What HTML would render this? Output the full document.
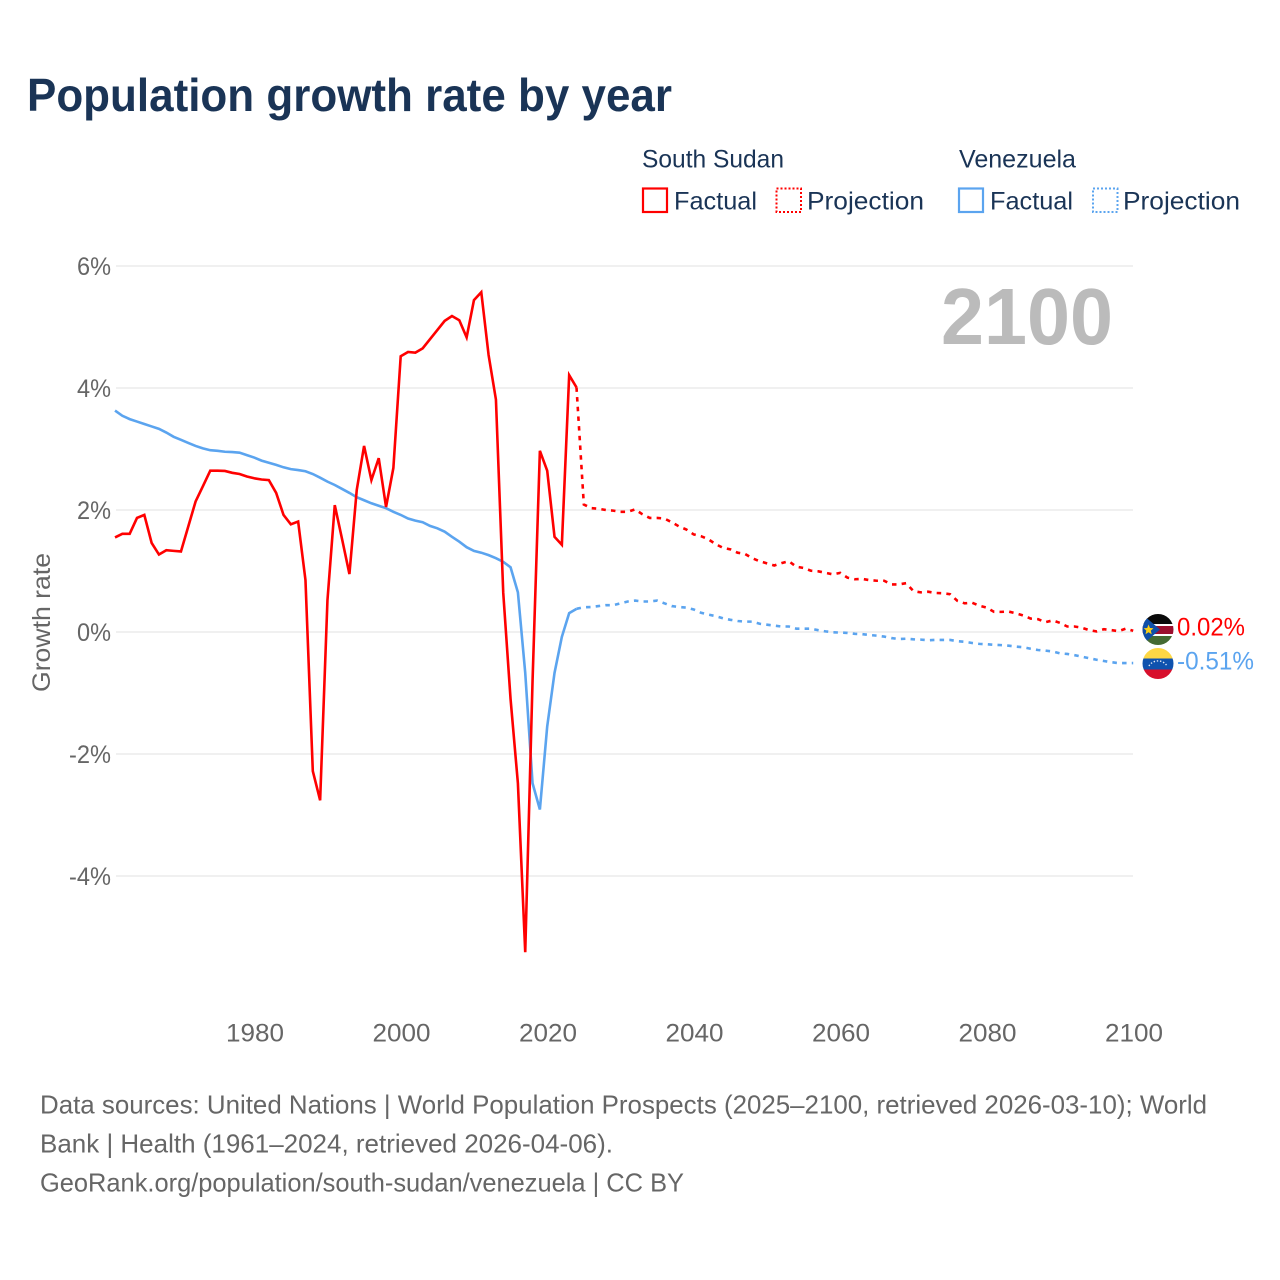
<!DOCTYPE html>
<html lang="en">
<head>
<meta charset="utf-8">
<title>Population growth rate by year</title>
<style>
html,body{margin:0;padding:0;background:#fff;width:1280px;height:1280px;overflow:hidden}
svg{display:block;font-family:"Liberation Sans",sans-serif}
</style>
</head>
<body>
<svg id="chart" width="1280" height="1280" viewBox="0 0 1280 1280" xmlns="http://www.w3.org/2000/svg">
  <text x="27" y="111" font-size="46" font-weight="700" fill="#1a3456" textLength="645" lengthAdjust="spacingAndGlyphs">Population growth rate by year</text>

  <g fill="#1a3456" font-size="25">
    <text x="642" y="167.5" textLength="142" lengthAdjust="spacingAndGlyphs">South Sudan</text>
    <rect x="643" y="188.5" width="24" height="23.5" fill="none" stroke="#ff0000" stroke-width="2.2"/>
    <text x="674" y="209.5" textLength="83" lengthAdjust="spacingAndGlyphs">Factual</text>
    <rect x="776.5" y="188.5" width="24.5" height="23.5" fill="none" stroke="#ff0000" stroke-width="2" stroke-dasharray="2 2"/>
    <text x="807" y="209.5" textLength="117" lengthAdjust="spacingAndGlyphs">Projection</text>
    <text x="959" y="167.5" textLength="117" lengthAdjust="spacingAndGlyphs">Venezuela</text>
    <rect x="959" y="188.5" width="24" height="23.5" fill="none" stroke="#5ba4ef" stroke-width="2.2"/>
    <text x="990" y="209.5" textLength="83" lengthAdjust="spacingAndGlyphs">Factual</text>
    <rect x="1093" y="188.5" width="24.5" height="23.5" fill="none" stroke="#5ba4ef" stroke-width="2" stroke-dasharray="2 2"/>
    <text x="1123" y="209.5" textLength="117" lengthAdjust="spacingAndGlyphs">Projection</text>
  </g>

  <g id="grid"></g>
  <g id="yticks"></g>
  <g id="xticks"></g>

  <text transform="translate(50 622.5) rotate(-90)" text-anchor="middle" font-size="25" fill="#666666" textLength="139" lengthAdjust="spacingAndGlyphs">Growth rate</text>

  <text x="941" y="344" font-size="80" font-weight="700" fill="#bbbbbb" textLength="172" lengthAdjust="spacingAndGlyphs">2100</text>

  <g id="series"></g>

  <defs>
    <clipPath id="clip-ss"><circle cx="1158" cy="629.5" r="15.5"/></clipPath>
    <clipPath id="clip-vz"><circle cx="1158" cy="663.5" r="15.5"/></clipPath>
  </defs>
  <g clip-path="url(#clip-ss)">
    <rect x="1142" y="614" width="32" height="32" fill="#fff"/>
    <rect x="1142" y="614" width="32" height="10" fill="#0a0a0a"/>
    <rect x="1142" y="626" width="32" height="8" fill="#9c0f2e"/>
    <rect x="1142" y="636" width="32" height="10" fill="#456a32"/>
    <polygon points="1142,614 1160,629.5 1142,645" fill="#0f4fa8"/>
    <polygon points="1148.5,624.5 1150,628 1153.5,628.3 1150.8,630.6 1151.7,634.2 1148.5,632.2 1145.5,634.2 1146.3,630.6 1143.7,628.3 1147.2,628" fill="#fcd116"/>
  </g>
  <g clip-path="url(#clip-vz)">
    <rect x="1142" y="648" width="32" height="10.5" fill="#fdd745"/>
    <rect x="1142" y="658.5" width="32" height="11" fill="#0f52ae"/>
    <rect x="1142" y="669.5" width="32" height="10" fill="#d80f2c"/>
    <path d="M1149 666 A10 9 0 0 1 1167 666" fill="none" stroke="#dfe8f5" stroke-width="1.4" stroke-dasharray="1.4 1.8"/>
  </g>

  <text id="label-ss" x="1177" y="635.5" font-size="25" fill="#ff0000" textLength="68" lengthAdjust="spacingAndGlyphs"></text>
  <text id="label-vz" x="1177" y="669.5" font-size="25" fill="#5ba4ef" textLength="77" lengthAdjust="spacingAndGlyphs"></text>

  <g font-size="26" fill="#666666">
    <text x="40" y="1113.5" textLength="1167" lengthAdjust="spacingAndGlyphs">Data sources: United Nations | World Population Prospects (2025–2100, retrieved 2026-03-10); World</text>
    <text x="40" y="1152.5" textLength="573" lengthAdjust="spacingAndGlyphs">Bank | Health (1961–2024, retrieved 2026-04-06).</text>
    <text x="40" y="1191.5" textLength="644" lengthAdjust="spacingAndGlyphs">GeoRank.org/population/south-sudan/venezuela | CC BY</text>
  </g>
</svg>

<script>
const factualStartYear = 1961;
const projectionStartYear = 2024;
const yTickValues = [6, 4, 2, 0, -2, -4];
const yTickLabels = ['6%', '4%', '2%', '0%', '-2%', '-4%'];
const xTickYears = [1980, 2000, 2020, 2040, 2060, 2080, 2100];

const southSudanFactual = [1.55,1.61,1.61,1.87,1.92,1.46,1.27,1.34,1.33,1.32,1.73,2.14,2.39,2.645,2.645,2.64,2.61,2.59,2.55,2.52,2.50,2.49,2.28,1.92,1.765,1.81,0.85,-2.28,-2.76,0.52,2.08,1.52,0.95,2.33,3.05,2.49,2.85,2.05,2.69,4.52,4.59,4.58,4.65,4.80,4.95,5.10,5.18,5.11,4.83,5.44,5.57,4.54,3.81,0.64,-1.1,-2.48,-5.25,-0.8,2.97,2.645,1.56,1.43,4.21,4.01];
const southSudanProjection = [4.01,2.09,2.03,2.02,2.0,1.99,1.97,1.97,2.01,1.93,1.87,1.87,1.86,1.80,1.73,1.68,1.60,1.57,1.52,1.44,1.38,1.355,1.30,1.28,1.21,1.16,1.125,1.09,1.13,1.16,1.07,1.05,1.005,0.995,0.97,0.945,0.97,0.89,0.865,0.87,0.85,0.84,0.84,0.78,0.78,0.80,0.67,0.65,0.66,0.64,0.635,0.62,0.51,0.47,0.48,0.43,0.40,0.33,0.33,0.335,0.305,0.27,0.22,0.21,0.16,0.19,0.15,0.09,0.09,0.07,0.03,0.01,0.045,0.03,0.015,0.055,0.02];
const venezuelaFactual = [3.63,3.545,3.49,3.45,3.41,3.37,3.33,3.27,3.20,3.15,3.10,3.05,3.01,2.98,2.97,2.955,2.95,2.94,2.90,2.86,2.81,2.775,2.74,2.70,2.67,2.655,2.635,2.59,2.53,2.465,2.41,2.345,2.28,2.21,2.16,2.11,2.07,2.03,1.97,1.92,1.86,1.825,1.80,1.74,1.70,1.645,1.56,1.48,1.39,1.33,1.30,1.26,1.21,1.15,1.06,0.65,-0.67,-2.48,-2.91,-1.55,-0.67,-0.08,0.31,0.38];
const venezuelaProjection = [0.38,0.405,0.41,0.425,0.44,0.44,0.47,0.50,0.515,0.50,0.50,0.515,0.47,0.425,0.41,0.40,0.37,0.315,0.285,0.26,0.225,0.20,0.18,0.17,0.17,0.135,0.12,0.105,0.09,0.09,0.055,0.055,0.055,0.03,0.01,-0.005,-0.01,-0.015,-0.03,-0.035,-0.05,-0.06,-0.075,-0.10,-0.115,-0.11,-0.12,-0.125,-0.135,-0.13,-0.13,-0.13,-0.15,-0.16,-0.18,-0.195,-0.20,-0.21,-0.215,-0.225,-0.24,-0.25,-0.275,-0.295,-0.305,-0.32,-0.35,-0.36,-0.38,-0.405,-0.43,-0.455,-0.475,-0.495,-0.51,-0.51,-0.51];

const NS = 'http://www.w3.org/2000/svg';
function xScale(year) { return 255 + (year - 1980) * 7.325; }
function yScale(value) { return 632 - value * 61; }
function make(parent, tag, attrs, text) {
  const el = document.createElementNS(NS, tag);
  Object.keys(attrs).forEach(function (k) { el.setAttribute(k, attrs[k]); });
  if (text !== undefined) el.textContent = text;
  document.getElementById(parent).appendChild(el);
  return el;
}

yTickValues.forEach(function (v, i) {
  const line = make('grid', 'line', { x1: 116, x2: 1133, y1: yScale(v), y2: yScale(v), stroke: '#ebebeb', 'stroke-width': 1.6 });
  
  
  const label = make('yticks', 'text', { x: 111, y: yScale(v) + 9, 'text-anchor': 'end', 'font-size': 25, fill: '#666666', textLength: yTickLabels[i].length === 3 ? 42 : 34, lengthAdjust: 'spacingAndGlyphs' }, yTickLabels[i]);
  
  
});

xTickYears.forEach(function (year) {
  const label = make('xticks', 'text', { x: xScale(year), y: 1041.5, 'text-anchor': 'middle', 'font-size': 25, fill: '#666666', textLength: 58, lengthAdjust: 'spacingAndGlyphs' }, String(year));
  
  
});

function linePoints(values, startYear) {
  return values.map(function (v, i) {
    return (xScale(startYear + i) - 0.8).toFixed(2) + ',' + yScale(v).toFixed(2);
  }).join(' ');
}
function drawSeries(values, startYear, color, dash) {
  const attrs = { points: linePoints(values, startYear), fill: 'none', stroke: color, 'stroke-width': 2.6, 'stroke-linejoin': 'miter' };
  if (dash) attrs['stroke-dasharray'] = '4.5 5.2';
  return make('series', 'polyline', attrs);
}

const vzFactualLine = drawSeries(venezuelaFactual, factualStartYear, '#5ba4ef', false);


const vzProjectionLine = drawSeries(venezuelaProjection, projectionStartYear, '#5ba4ef', true);


const ssFactualLine = drawSeries(southSudanFactual, factualStartYear, '#ff0000', false);


const ssProjectionLine = drawSeries(southSudanProjection, projectionStartYear, '#ff0000', true);



document.getElementById('label-ss').textContent = southSudanProjection[southSudanProjection.length - 1].toFixed(2) + '%';
document.getElementById('label-vz').textContent = venezuelaProjection[venezuelaProjection.length - 1].toFixed(2) + '%';
</script>
</body>
</html>
